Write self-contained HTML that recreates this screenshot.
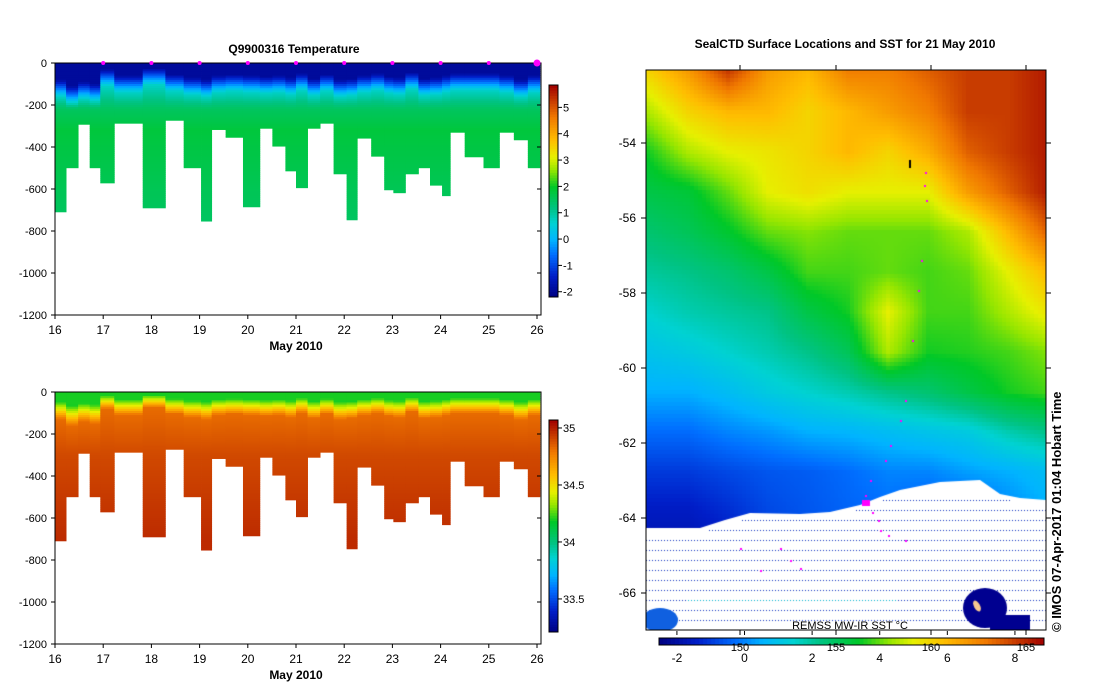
<!DOCTYPE html>
<html><head><meta charset="utf-8">
<style>
body{margin:0;background:#fff;width:1099px;height:700px;overflow:hidden;font-family:"Liberation Sans",sans-serif}
svg text{font-family:"Liberation Sans",sans-serif;fill:#000}
#mapcv{position:absolute;left:646px;top:70px}
</style></head>
<body>
<svg id="root" width="1099" height="700" style="position:absolute;left:0;top:0"></svg>
<canvas id="mapcv" width="400" height="560"></canvas>
<svg id="over" width="1099" height="700" style="position:absolute;left:0;top:0"></svg>
<script>
// ---- profile data (days, May 2010) ----
const colStart=[16.0,16.23,16.48,16.72,16.94,17.23,17.82,18.29,18.67,19.03,19.25,19.54,19.9,20.25,20.51,20.78,21.0,21.24,21.5,21.78,22.05,22.27,22.56,22.83,23.02,23.27,23.54,23.78,24.03,24.2,24.5,24.89,25.22,25.52,25.81];
const colEnd=[16.23,16.48,16.72,16.94,17.23,17.82,18.29,18.67,19.03,19.25,19.54,19.9,20.25,20.51,20.78,21.0,21.24,21.5,21.78,22.05,22.27,22.56,22.83,23.02,23.27,23.54,23.78,24.03,24.2,24.5,24.89,25.22,25.52,25.81,26.06];
const colDepth=[709,499,292,499,571,287,690,273,499,753,317,354,685,311,396,514,594,311,287,528,747,358,444,604,618,528,499,582,632,330,447,499,330,366,499];
const colMld=[80,110,90,100,30,60,25,55,70,80,60,55,60,65,60,70,50,75,55,80,75,60,50,65,70,45,75,70,60,50,50,50,60,80,60];
const tempTicks=[5,4,3,2,1,0,-1,-2];
const salTicks=[35,34.5,34,33.5];
const dayTicks=[16,17,18,19,20,21,22,23,24,25,26];
const depthTicks=[0,-200,-400,-600,-800,-1000,-1200];
// ---- SST coarse grid (rows top->bottom every 40px, cols every 40px) ----
const sstGrid=[
[5.5,6.5,8,6.5,6,7,7,7.5,8,8,8.5],
[4.5,5.5,6,6,5.5,6,6.5,7,8,8,8.5],
[3.5,4.5,5,5.2,5.5,6,5.5,6.2,7.5,8,8.5],
[3,3.2,4,5,5.3,5,5,5,6.5,7.5,8.5],
[2.5,2.8,3.3,4,4.2,4,4,4,4.5,6,7.5],
[2,2.2,2.5,3,3.8,3.8,4,3.8,4,5,6],
[1.5,1.8,2,2.2,3,3.5,5,3.8,3.8,4.5,5.2],
[1,1.2,1.5,1.8,2.2,2.8,4.5,3.5,3.6,3.8,4.2],
[0.5,0.5,0.8,1.2,1.5,1.8,2.2,2.5,3,3.5,3.8],
[-0.3,-0.3,0,0.2,0.5,0.6,0.8,1,1.2,1.8,2.2],
[-1,-1,-0.8,-0.6,-0.5,-0.3,0,0,0.3,0.5,0.8],
[-1.5,-1.5,-1.2,-0.8,-0.6,-0.4,-0.3,-0.5,-0.5,0,0.5],
[-1.8,-1.8,-1.6,-1.4,-1.2,-1,-0.8,-0.8,-0.8,-0.5,-0.3],
[-1.9,-1.9,-1.9,-1.8,-1.8,-1.7,-1.6,-1.5,-1.4,-1.2,-1],
[-1.9,-1.9,-1.9,-1.9,-1.9,-1.9,-1.9,-1.9,-1.9,-1.9,-1.8]];
const iceEdgeX=[646,700,725,750,800,830,860,880,900,940,980,1000,1020,1046];
const iceEdgeY=[528,528,520,513,514,512,505,497,490,482,480,494,498,500];
const latTicks=[-54,-56,-58,-60,-62,-64,-66];
const sstTicks=[-2,0,2,4,6,8];
const lonTicks=[150,155,160,165];

const NS='http://www.w3.org/2000/svg';
const root=document.getElementById('root'),over=document.getElementById('over');
function el(p,tag,a){const e=document.createElementNS(NS,tag);for(const k in a)e.setAttribute(k,a[k]);p.appendChild(e);return e;}

const jetStops=[[0,[0,0,128]],[0.1,[0,30,200]],[0.2,[0,110,255]],[0.27,[0,180,255]],[0.35,[0,210,210]],[0.42,[0,195,130]],[0.52,[0,200,40]],[0.6,[150,230,0]],[0.66,[230,240,0]],[0.74,[255,190,0]],[0.85,[240,120,0]],[1,[160,0,0]]];
function jetArr(t){t=Math.max(0,Math.min(1,t));for(let i=1;i<jetStops.length;i++){if(t<=jetStops[i][0]){const a=jetStops[i-1],b=jetStops[i];const f=(t-a[0])/(b[0]-a[0]);return a[1].map((v,j)=>Math.round(v+(b[1][j]-v)*f));}}return [160,0,0];}
function jet(t){return 'rgb('+jetArr(t).join(',')+')';}

const X0=55,X1=537,XR=541;
const xDay=d=>X0+(d-16)*(X1-X0)/10;
function tempAt(z,m){if(z<m)return -1.9;if(z<m+80)return -1.9+(z-m)/80*2.6;if(z<220)return 0.7+(z-m-80)/(140-m)*0.8;if(z<320)return 1.5+(z-220)/100*0.3;return 1.8-(z-320)/400*0.3;}
function salAt(z,m){if(z<m*0.6)return 34.2;if(z<m+50)return 34.2+(z-m*0.6)/(m*0.4+50)*0.62;if(z<300)return 34.82+(z-m-50)/(250-m)*0.08;return 34.9+Math.min(0.07,(z-300)/400*0.07);}

function panel(yTop,yBot,title,cmin,cmax,ticks,fmt,valFn,cbTop,cbBot,name){
  const g=el(root,'g',{});
  const yD=z=>yTop+z/1200*(yBot-yTop);
  for(let i=0;i<colStart.length;i++){
    const cg=el(g,'g',{});
    const x=xDay(colStart[i]),w=xDay(colEnd[i])-x;
    for(let z=0;z<colDepth[i];z+=10){
      const v=valFn(z+5,colMld[i]);
      el(cg,'rect',{x:x.toFixed(2),y:yD(z).toFixed(2),width:(w+0.4).toFixed(2),height:(Math.min(10,colDepth[i]-z)*(yBot-yTop)/1200+0.4).toFixed(2),fill:jet((v-cmin)/(cmax-cmin))});
    }
  }
  el(g,'rect',{x:X0,y:yTop,width:XR-X0,height:yBot-yTop,fill:'none',stroke:'#000','stroke-width':1});
  depthTicks.forEach(d=>{const y=yD(-d);el(g,'line',{x1:X0-4,x2:X0,y1:y,y2:y,stroke:'#000'});el(g,'line',{x1:XR-4,x2:XR,y1:y,y2:y,stroke:'#000'});const t=el(g,'text',{x:X0-8,y:y+4,'font-size':11,'text-anchor':'end'});t.textContent=d;});
  dayTicks.forEach(d=>{const x=xDay(d);el(g,'line',{x1:x,x2:x,y1:yBot,y2:yBot+4,stroke:'#000'});const t=el(g,'text',{x:x,y:yBot+19,'font-size':12,'text-anchor':'middle'});t.textContent=d;});
  const xl=el(g,'text',{x:296,y:yBot+35,'font-size':12,'font-weight':'bold','text-anchor':'middle'});xl.textContent='May 2010';
  if(title){const tt=el(g,'text',{x:294,y:yTop-10,'font-size':12,'font-weight':'bold','text-anchor':'middle'});tt.textContent=title;}
  const cb=el(g,'g',{});
  const n=80;for(let i=0;i<n;i++){const y=cbBot-(i+1)*(cbBot-cbTop)/n;el(cb,'rect',{x:549,y:y.toFixed(2),width:9,height:((cbBot-cbTop)/n+0.4).toFixed(2),fill:jet((i+0.5)/n)});}
  el(cb,'rect',{x:549,y:cbTop,width:9,height:cbBot-cbTop,fill:'none',stroke:'#000'});
  ticks.forEach(v=>{const y=cbBot-(v-cmin)/(cmax-cmin)*(cbBot-cbTop);el(cb,'line',{x1:558,x2:562,y1:y,y2:y,stroke:'#000'});const t=el(cb,'text',{x:563,y:y+4,'font-size':11});t.textContent=fmt(v);});
  return yD;
}
panel(63,315,'Q9900316  Temperature',-2.2,5.85,tempTicks,v=>v,tempAt,85,297,'temperature-panel');
panel(392,644,'',33.21,35.07,salTicks,v=>v,salAt,420,632,'salinity-panel');
for(let d=17;d<=26;d++){const m=el(root,'circle',{cx:xDay(d),cy:63,r:d==26?3.5:2,fill:'#f0f'});}

// ---- map ----
const MX0=646,MY0=70,MW=400,MH=560,SMIN=-2.53,SMAX=8.86;
const cv=document.getElementById('mapcv'),ctx=cv.getContext('2d');
const img=ctx.createImageData(MW,MH);
for(let py=0;py<MH;py+=4)for(let px=0;px<MW;px+=4){
  const gy=Math.min(sstGrid.length-1.001,py/40),gx=Math.min(9.999,px/40);
  const r=Math.floor(gy),c=Math.floor(gx),fy=gy-r,fx=gx-c;
  const v=sstGrid[r][c]*(1-fx)*(1-fy)+sstGrid[r][c+1]*fx*(1-fy)+sstGrid[r+1][c]*(1-fx)*fy+sstGrid[r+1][c+1]*fx*fy;
  const col=jetArr((v-SMIN)/(SMAX-SMIN));
  for(let dy=0;dy<4;dy++)for(let dx=0;dx<4;dx++){const i=((py+dy)*MW+px+dx)*4;img.data[i]=col[0];img.data[i+1]=col[1];img.data[i+2]=col[2];img.data[i+3]=255;}
}
ctx.putImageData(img,0,0);
ctx.fillStyle='#fff';ctx.beginPath();ctx.moveTo(0,MH);
iceEdgeX.forEach((x,i)=>ctx.lineTo(x-MX0,iceEdgeY[i]-MY0));ctx.lineTo(MW,MH);ctx.closePath();ctx.fill();
for(let y=500;y<628;y+=10){const yy=y-MY0;for(let x=0;x<MW;x+=3){let edge=0;for(let i=1;i<iceEdgeX.length;i++){if(x+MX0<=iceEdgeX[i]){const a=i-1;edge=iceEdgeY[a]+(iceEdgeY[i]-iceEdgeY[a])*((x+MX0-iceEdgeX[a])/(iceEdgeX[i]-iceEdgeX[a]));break;}}if(y>edge+4){ctx.fillStyle=(y>590&&y<605&&x>40&&x<250)?'#00b0d0':'#1030c0';ctx.fillRect(x,yy,1,1);}}}
ctx.fillStyle='#000090';ctx.beginPath();ctx.ellipse(985-MX0,608-MY0,22,20,0,0,7);ctx.fill();ctx.fillRect(990-MX0,615-MY0,40,15);
ctx.fillStyle='#1060e0';ctx.beginPath();ctx.ellipse(660-MX0,620-MY0,18,12,0,0,7);ctx.fill();
ctx.fillStyle='#f8c890';ctx.beginPath();ctx.ellipse(977-MX0,606-MY0,3,6,-0.5,0,7);ctx.fill();
ctx.fillStyle='#000';ctx.fillRect(909-MX0,160-MY0,2,8);
ctx.fillStyle='#f0f';
[[925,172],[924,185],[926,200],[921,260],[918,290],[912,340],[905,400],[900,420],[890,445],[885,460],[870,480],[865,495],[868,504],[872,512],[878,520],[880,530],[888,535],[905,540],[780,548],[790,560],[800,568],[760,570],[740,548]].forEach(p=>ctx.fillRect(p[0]-MX0,p[1]-MY0,2,2));
ctx.fillRect(862-MX0,500-MY0,8,6);

const ov=el(over,'g',{});
el(ov,'rect',{x:MX0,y:MY0,width:MW,height:MH,fill:'none',stroke:'#000'});
const yLat=l=>143+(-54-l)/2*75;
latTicks.forEach(l=>{const y=yLat(l);el(ov,'line',{x1:MX0-5,x2:MX0,y1:y,y2:y,stroke:'#000'});el(ov,'line',{x1:MX0+MW,x2:MX0+MW+5,y1:y,y2:y,stroke:'#000'});const t=el(ov,'text',{x:MX0-10,y:y+4,'font-size':12,'text-anchor':'end'});t.textContent=l;});
[740,836,931,1026].forEach(x=>{el(ov,'line',{x1:x,x2:x,y1:MY0-5,y2:MY0,stroke:'#000'});el(ov,'line',{x1:x,x2:x,y1:630,y2:635,stroke:'#000'});});
const mt=el(ov,'text',{x:845,y:48,'font-size':12,'font-weight':'bold','text-anchor':'middle'});mt.textContent='SealCTD Surface Locations and SST for 21 May 2010';
const rl=el(ov,'text',{x:850,y:629,'font-size':11,'text-anchor':'middle'});rl.textContent='REMSS MW-IR SST °C';
const cp=el(ov,'text',{x:0,y:0,'font-size':13,'font-weight':'bold',transform:'translate(1061,632) rotate(-90)'});cp.textContent='©  IMOS 07-Apr-2017 01:04 Hobart Time';
const scb=el(over,'g',{});
const xS=v=>659+(v-SMIN)/(SMAX-SMIN)*385;
for(let i=0;i<96;i++){el(scb,'rect',{x:(659+i*385/96).toFixed(2),y:638,width:(385/96+0.4).toFixed(2),height:7,fill:jet((i+0.5)/96)});}
el(scb,'rect',{x:659,y:638,width:385,height:7,fill:'none',stroke:'#000'});
sstTicks.forEach(v=>{const x=xS(v);el(scb,'line',{x1:x,x2:x,y1:631,y2:635,stroke:'#000'});const t=el(scb,'text',{x:x,y:662,'font-size':12,'text-anchor':'middle'});t.textContent=v;});
const lonX=[740,836,931,1026];
lonTicks.forEach((v,i)=>{const t=el(scb,'text',{x:lonX[i],y:651,'font-size':11,'text-anchor':'middle'});t.textContent=v;});
</script>
</body></html>
